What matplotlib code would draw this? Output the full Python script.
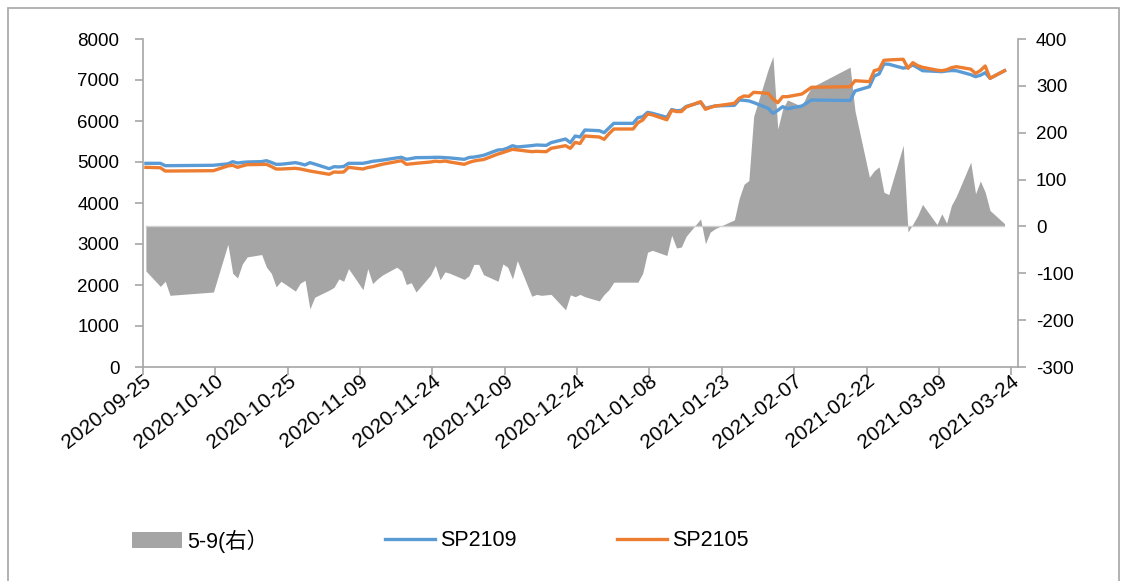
import matplotlib
matplotlib.use("Agg")
import matplotlib.pyplot as plt
import matplotlib.dates as mdates
import matplotlib.transforms as mtransforms
from matplotlib.patches import Rectangle
import datetime as dt

plt.rcParams['font.family'] = ['Liberation Sans', 'Noto Sans CJK SC', 'DejaVu Sans']
plt.rcParams['axes.unicode_minus'] = False

# ---- data ----
dates = [
    "2020-09-25", "2020-09-28", "2020-09-29", "2020-09-30",
    "2020-10-09", "2020-10-12", "2020-10-13", "2020-10-14", "2020-10-15", "2020-10-16",
    "2020-10-19", "2020-10-20", "2020-10-21", "2020-10-22", "2020-10-23",
    "2020-10-26", "2020-10-27", "2020-10-28", "2020-10-29", "2020-10-30",
    "2020-11-02", "2020-11-03", "2020-11-04", "2020-11-05", "2020-11-06",
    "2020-11-09", "2020-11-10", "2020-11-11", "2020-11-12", "2020-11-13",
    "2020-11-16", "2020-11-17", "2020-11-18", "2020-11-19", "2020-11-20",
    "2020-11-23", "2020-11-24", "2020-11-25", "2020-11-26", "2020-11-27",
    "2020-11-30",
    "2020-12-01", "2020-12-02", "2020-12-03", "2020-12-04",
    "2020-12-07", "2020-12-08", "2020-12-09", "2020-12-10", "2020-12-11",
    "2020-12-14", "2020-12-15", "2020-12-16", "2020-12-17", "2020-12-18",
    "2020-12-21", "2020-12-22", "2020-12-23", "2020-12-24", "2020-12-25",
    "2020-12-28", "2020-12-29", "2020-12-30", "2020-12-31",
    "2021-01-04", "2021-01-05", "2021-01-06", "2021-01-07", "2021-01-08",
    "2021-01-11", "2021-01-12", "2021-01-13", "2021-01-14", "2021-01-15",
    "2021-01-18", "2021-01-19", "2021-01-20", "2021-01-21", "2021-01-22",
    "2021-01-25", "2021-01-26", "2021-01-27", "2021-01-28", "2021-01-29",
    "2021-02-01", "2021-02-02", "2021-02-03", "2021-02-04", "2021-02-05",
    "2021-02-08", "2021-02-09", "2021-02-10",
    "2021-02-18", "2021-02-19",
    "2021-02-22", "2021-02-23", "2021-02-24", "2021-02-25", "2021-02-26",
    "2021-03-01", "2021-03-02", "2021-03-03", "2021-03-04", "2021-03-05",
    "2021-03-08", "2021-03-09", "2021-03-10", "2021-03-11", "2021-03-12",
    "2021-03-15", "2021-03-16", "2021-03-17", "2021-03-18", "2021-03-19",
    "2021-03-22",
]

spread_5_9 = [
    -95, -128, -117, -147,
    -140, -38, -100, -110, -80, -65, -60, -87, -100, -129, -117, -138, -121, -115, -176, -151,
    -136, -130, -112, -117, -90, -135, -90, -122, -112, -104, -87, -95, -124, -120, -140,
    -104, -83, -114, -97, -100, -113,
    -105, -81, -81, -103, -117, -80, -87, -112, -73, -149, -145, -147, -146, -145,
    -178, -146, -150, -145, -150, -159, -145, -135, -119,
    -119, -119, -100, -55, -51, -62, -19, -46, -44, -21, 16, -37, -12, -5, 0,
    14, 60, 90, 98, 235,
    335, 363, 208, 250, 270, 256, 280, 297, 340, 247, 105, 119, 127, 73, 68,
    173, -12, 5, 23, 47, 4, 27, 7, 45, 64, 137, 70, 97, 73, 34, 6,
]

sp2109 = [
    4968, 4968, 4911, 4911,
    4920, 4955, 5008, 4975, 4990, 5000, 5010, 5032, 4990, 4943, 4945, 4984, 4960, 4927, 4984, 4950,
    4837, 4886, 4880, 4890, 4968, 4968, 4990, 5017, 5030, 5045, 5100, 5114, 5065, 5085, 5106,
    5110, 5114, 5114, 5106, 5100, 5065,
    5110, 5120, 5140, 5163, 5293, 5300, 5340, 5398, 5366, 5400, 5415, 5410, 5405, 5472,
    5561, 5472, 5634, 5610, 5780, 5764, 5715, 5830, 5943,
    5943, 6081, 6105, 6211, 6187, 6090, 6280, 6250, 6260, 6355, 6455, 6309, 6340, 6366, 6372,
    6382, 6512, 6505, 6490, 6450,
    6309, 6187, 6260, 6349, 6300, 6366, 6440, 6512, 6500, 6732, 6837, 7097, 7147, 7390, 7385,
    7290, 7310, 7366, 7300, 7227, 7210, 7203, 7220, 7230, 7227, 7130, 7080, 7115, 7178, 7041, 7227,
]

sp2105 = [
    4870, 4860, 4780, 4780,
    4788, 4905, 4919, 4870, 4905, 4935, 4940, 4943, 4890, 4829, 4829, 4846, 4830, 4805, 4780, 4760,
    4700, 4756, 4750, 4756, 4870, 4829, 4865, 4886, 4915, 4945, 5010, 5032, 4943, 4955, 4968,
    5000, 5020, 5010, 5024, 5000, 4943,
    4990, 5024, 5045, 5060, 5195, 5230, 5270, 5309, 5295, 5252, 5260, 5255, 5252, 5333,
    5398, 5333, 5480, 5450, 5634, 5610, 5553, 5690, 5805,
    5805, 5958, 6024, 6171, 6150, 6030, 6260, 6230, 6230, 6340, 6471, 6285, 6330, 6366, 6380,
    6431, 6553, 6610, 6600, 6700,
    6675, 6540, 6447, 6593, 6593, 6659, 6740, 6822, 6837, 6983, 6960, 7227, 7260, 7480, 7490,
    7505, 7285, 7423, 7350, 7310, 7240, 7227, 7250, 7300, 7325, 7265, 7160, 7230, 7342, 7041, 7227,
]

left_ticks = [0, 1000, 2000, 3000, 4000, 5000, 6000, 7000, 8000]
right_ticks = [-300, -200, -100, 0, 100, 200, 300, 400]
x_tick_labels = ["2020-09-25", "2020-10-10", "2020-10-25", "2020-11-09", "2020-11-24",
                 "2020-12-09", "2020-12-24", "2021-01-08", "2021-01-23", "2021-02-07",
                 "2021-02-22", "2021-03-09", "2021-03-24"]

# ---- figure ----
W, H = 1126, 581
fig = plt.figure(figsize=(W / 100, H / 100), dpi=100)
fig.patch.set_facecolor('white')

ax = fig.add_axes([143 / W, 1 - 367 / H, (1018 - 143) / W, (367 - 39) / H])
ax2 = ax.twinx()

xs = [mdates.date2num(dt.datetime.strptime(d, "%Y-%m-%d")) + 0.6 for d in dates]
x0 = mdates.date2num(dt.datetime(2020, 9, 25))

gray = '#A5A5A5'
blue = '#5B9BD5'
orange = '#ED7D31'
axis_col = '#A6A6A6'

area = ax2.fill_between(xs, 0, spread_5_9, color=gray, lw=0, label='5-9(右）')
ax2.plot([xs[0], xs[-1]], [0, 0], color='#D0D0D0', lw=1.0, zorder=1)
l1, = ax.plot(xs, sp2109, color=blue, lw=2.4, solid_joinstyle='round', label='SP2109')
l2, = ax.plot(xs, sp2105, color=orange, lw=2.4, solid_joinstyle='round', label='SP2105')

ax.set_zorder(ax2.get_zorder() + 1)
ax.patch.set_visible(False)

ax.set_ylim(0, 8000)
ax.set_yticks(left_ticks)
ax2.set_ylim(-300, 400)
ax2.set_yticks(right_ticks)

xticks = [mdates.date2num(dt.datetime.strptime(t, "%Y-%m-%d")) for t in x_tick_labels]
ax.set_xlim(x0, x0 + 181.4)
ax.set_xticks(xticks)
ax.set_xticklabels(x_tick_labels, rotation=38, ha='right', va='top',
                   rotation_mode='anchor', fontsize=15)
shift = mtransforms.ScaledTranslation(5 / 100, 0, fig.dpi_scale_trans)
for lab in ax.get_xticklabels():
    lab.set_transform(lab.get_transform() + shift)

for s in ['top', 'right']:
    ax.spines[s].set_visible(False)
for s in ['top', 'left', 'bottom']:
    ax2.spines[s].set_visible(False)
for s in [ax.spines['left'], ax.spines['bottom'], ax2.spines['right']]:
    s.set_color(axis_col)
    s.set_linewidth(1.2)

ax.tick_params(axis='both', direction='out', length=6, width=1.2, color=axis_col,
               labelcolor='black')
ax.tick_params(axis='y', labelsize=13.5, pad=11)
ax.tick_params(axis='x', pad=-3)
ax2.tick_params(axis='y', direction='out', length=6, width=1.2, color=axis_col,
                labelsize=13.5, labelcolor='black', pad=7)

# legend entries
fs = 15.5
common = dict(loc='center left', frameon=False, fontsize=fs, borderpad=0,
              borderaxespad=0, handletextpad=0.25, handlelength=2.3)
fig.legend(handles=[area], labels=['5-9(右）'], bbox_to_anchor=(132 / W, 1 - 541 / H),
           handleheight=0.75, **common)
fig.legend(handles=[l1], labels=['SP2109'], bbox_to_anchor=(385 / W, 1 - 541 / H), **common)
fig.legend(handles=[l2], labels=['SP2105'], bbox_to_anchor=(617 / W, 1 - 541 / H), **common)

# outer border
fig.add_artist(Rectangle((8 / W, -0.05), (1119 - 8) / W, 1.05 - 8 / H,
                         transform=fig.transFigure, fill=False,
                         edgecolor=axis_col, lw=1.2))

fig.savefig('out.png', dpi=100)
